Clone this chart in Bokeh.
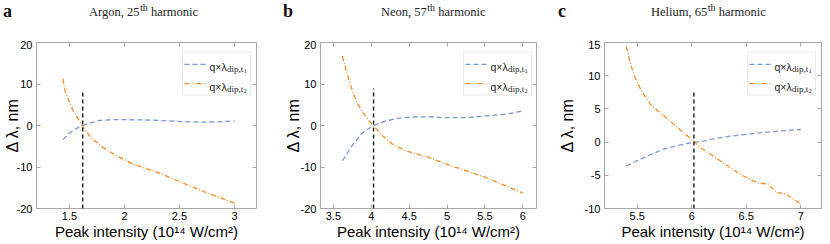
from bokeh.plotting import figure
from bokeh.layouts import row, column
from bokeh.models import Range1d, FixedTicker, LinearAxis, Label, BoxAnnotation, Arrow, Div
from bokeh.embed import file_html
from bokeh.resources import INLINE

# ---------------- data ----------------
panel_letters = ["a", "b", "c"]
title_main = ["Argon, 25", "Neon, 57", "Helium, 65"]
title_sup = "th"
title_rest = "harmonic"
x_label = "Peak intensity (10\u00b9\u2074 W/cm\u00b2)"
y_label = "\u0394 \u03bb, nm"
legend_main = "q\u00d7\u03bb"
legend_sub = "dip,t"
legend_idx = ["1", "2"]

# Argon
ar_x_t1 = [1.44, 1.51, 1.59, 1.68, 1.77, 1.88, 2.00, 2.15, 2.33, 2.51, 2.69, 2.85, 3.00]
ar_y_t1 = [-3.4, -1.6, -0.3, 0.56, 1.2, 1.4, 1.4, 1.36, 1.2, 0.96, 0.8, 0.88, 1.1]
ar_x_t2 = [1.44, 1.46, 1.50, 1.54, 1.59, 1.62, 1.69, 1.80, 1.92, 2.07, 2.19, 2.33, 2.51, 2.69, 2.85, 3.00]
ar_y_t2 = [11.3, 8.2, 5.6, 3.2, 1.2, -0.2, -2.8, -5.2, -7.2, -9.2, -10.3, -11.6, -13.6, -15.6, -17.2, -18.7]
# Neon
ne_x_t1 = [3.62, 3.73, 3.86, 4.02, 4.19, 4.37, 4.59, 4.76, 4.99, 5.25, 5.51, 5.77, 6.00]
ne_y_t1 = [-8.5, -5.3, -2.1, -0.1, 1.1, 1.8, 2.1, 2.1, 1.9, 1.9, 2.3, 2.7, 3.5]
ne_x_t2 = [3.62, 3.67, 3.73, 3.80, 3.89, 3.97, 4.04, 4.15, 4.28, 4.46, 4.63, 4.76, 4.99, 5.25, 5.51, 5.77, 6.00]
ne_y_t2 = [16.7, 13.1, 9.5, 5.9, 3.1, 1.1, -0.3, -2.5, -4.5, -6.1, -7.0, -7.7, -9.3, -10.9, -12.5, -14.5, -16.3]
# Helium
he_x_t1 = [5.40, 5.50, 5.62, 5.74, 5.86, 5.99, 6.11, 6.20, 6.36, 6.54, 6.72, 6.91, 7.00]
he_y_t1 = [-3.6, -2.8, -1.9, -1.1, -0.55, -0.1, 0.15, 0.5, 0.9, 1.25, 1.55, 1.8, 1.9]
he_x_t2 = [5.40, 5.44, 5.48, 5.54, 5.62, 5.71, 5.80, 5.89, 5.99, 6.08, 6.18, 6.33, 6.45, 6.57, 6.62, 6.70, 6.78, 6.86, 7.00]
he_y_t2 = [14.4, 11.7, 9.7, 7.7, 5.7, 4.4, 3.2, 1.9, 0.55, -0.85, -1.9, -3.6, -4.9, -5.9, -6.2, -6.3, -7.6, -7.8, -9.3]

marker_x = [1.62, 4.03, 6.02]
marker_top = [8.6, 8.9, 7.8]

x_ranges = [(1.2, 3.2), (3.33, 6.18), (5.2, 7.19)]
y_ranges = [(-20, 20), (-20, 20), (-10, 15)]
x_ticks = [[1.5, 2, 2.5, 3], [3.5, 4, 4.5, 5, 5.5, 6], [5.5, 6, 6.5, 7]]
x_tick_labels = [["1.5", "2", "2.5", "3"], ["3.5", "4", "4.5", "5", "5.5", "6"], ["5.5", "6", "6.5", "7"]]
y_ticks = [[-20, -10, 0, 10, 20], [-20, -10, 0, 10, 20], [-10, -5, 0, 5, 10, 15]]
y_tick_labels = [["-20", "-10", "0", "10", "20"], ["-20", "-10", "0", "10", "20"], ["-10", "-5", "0", "5", "10", "15"]]

series = [
    (ar_x_t1, ar_y_t1, ar_x_t2, ar_y_t2),
    (ne_x_t1, ne_y_t1, ne_x_t2, ne_y_t2),
    (he_x_t1, he_y_t1, he_x_t2, he_y_t2),
]

# ---------------- style / layout ----------------
SANS = "Liberation Sans"
SERIF = "Liberation Serif"
BLUE = "#7797d8"
ORANGE = "#ff8a22"
FRAME = "#a8a8a8"
LEG_BORDER = "#b8b8b8"
FH = 166
HEADER_H = 40

widths = [281, 273, 276]
borders_l = [36, 38, 50]
borders_r = [25, 18, 9]
ylab_standoff = [-7, -4, 6]
letter_left = [3, 283, 558]
title_left = [89, 381, 651]

ARIAL = {'q': 556, '\u00d7': 584, '\u03bb': 520}
TIMES = {'d': 500, 'i': 278, 'p': 500, ',': 250, 't': 278}


def tw(s, size, table):
    return sum(table.get(c, 500) for c in s) / 1000.0 * size


def lab(p, x, y_off, text, size, font=SANS, color="#222222"):
    p.add_layout(Label(x=x, y=FH - y_off, x_units="screen", y_units="screen", text=text,
                       text_font=font, text_font_size=f"{size}px", text_align="left",
                       text_baseline="alphabetic", text_color=color))


def style_axis(ax, ticks, labels, show):
    ax.ticker = FixedTicker(ticks=ticks)
    ax.major_label_overrides = {t: (l if show else "") for t, l in zip(ticks, labels)}
    ax.major_tick_in = 4
    ax.major_tick_out = 0
    ax.major_tick_line_color = FRAME
    ax.minor_tick_line_color = None
    ax.axis_line_color = None
    ax.major_label_text_font = SANS
    ax.major_label_text_font_size = "11px"
    ax.major_label_text_color = "black"
    ax.major_label_standoff = 3 if show else 0


# header row (panel letters and titles with superscripts)
spans = []
for i in range(3):
    spans.append(
        f'<span style="position:absolute;left:{letter_left[i]}px;top:1.5px;'
        f'font:bold 18px \'{SERIF}\';line-height:18px;color:#111">{panel_letters[i]}</span>')
    spans.append(
        f'<span style="position:absolute;left:{title_left[i]}px;top:6px;white-space:nowrap;'
        f'font:12.5px \'{SERIF}\';line-height:12.5px;color:#222">{title_main[i]}'
        f'<span style="position:relative;top:-5px;font-size:10px;margin-left:0.5px">{title_sup}</span>'
        f' {title_rest}</span>')
header = Div(text=f'<div style="position:relative;width:830px;height:{HEADER_H}px">' + "".join(spans) + '</div>',
             width=830, height=HEADER_H, margin=0)

panels = []
for i in range(3):
    W = widths[i]
    FW = W - borders_l[i] - borders_r[i]
    p = figure(width=W, height=FH + 2 + 36, x_range=Range1d(*x_ranges[i]), y_range=Range1d(*y_ranges[i]),
               output_backend="svg", toolbar_location=None,
               min_border_left=borders_l[i], min_border_right=borders_r[i],
               min_border_top=2, min_border_bottom=36, margin=0)
    p.grid.visible = False
    p.outline_line_color = FRAME
    p.outline_line_width = 1
    p.background_fill_color = "white"
    p.border_fill_color = "white"

    style_axis(p.xaxis[0], x_ticks[i], x_tick_labels[i], True)
    style_axis(p.yaxis[0], y_ticks[i], y_tick_labels[i], True)
    p.yaxis[0].major_label_standoff = 4
    p.xaxis[0].axis_label = x_label
    p.xaxis[0].axis_label_text_font = SANS
    p.xaxis[0].axis_label_text_font_size = "15px"
    p.xaxis[0].axis_label_text_font_style = "normal"
    p.xaxis[0].axis_label_text_color = "black"
    p.xaxis[0].axis_label_standoff = 0
    p.yaxis[0].axis_label = y_label
    p.yaxis[0].axis_label_text_font = SANS
    p.yaxis[0].axis_label_text_font_size = "16px"
    p.yaxis[0].axis_label_text_font_style = "normal"
    p.yaxis[0].axis_label_text_color = "black"
    p.yaxis[0].axis_label_standoff = ylab_standoff[i]

    top_ax = LinearAxis()
    style_axis(top_ax, x_ticks[i], x_tick_labels[i], False)
    p.add_layout(top_ax, "above")
    right_ax = LinearAxis()
    style_axis(right_ax, y_ticks[i], y_tick_labels[i], False)
    p.add_layout(right_ax, "right")

    x1, y1, x2, y2 = series[i]
    p.line(x1, y1, line_color=BLUE, line_width=1.3, line_dash="5 3")
    p.line(x2, y2, line_color=ORANGE, line_width=1.3, line_dash="5 2 1 2")
    p.segment(x0=[marker_x[i]], y0=[y_ranges[i][0]], x1=[marker_x[i]], y1=[marker_top[i]],
              line_color="#1a1a1a", line_width=1.4, line_dash="4 3")

    # legend (drawn by hand for the subscripts)
    bl = FW - 74
    bt = 9.5
    p.add_layout(BoxAnnotation(left=bl, right=FW - 6, top=FH - bt, bottom=FH - (bt + 43),
                               left_units="screen", right_units="screen",
                               top_units="screen", bottom_units="screen",
                               fill_color="white", fill_alpha=1.0,
                               line_color=LEG_BORDER, line_width=1))
    for k, (col, dash) in enumerate([(BLUE, "5 3"), (ORANGE, "5 3 1 3")]):
        ly = bt + 12.3 + 19.4 * k
        p.add_layout(Arrow(x_start=bl + 2, x_end=bl + 25, y_start=FH - ly, y_end=FH - ly,
                           start_units="screen", end_units="screen", end=None,
                           line_color=col, line_width=1.3, line_dash=dash))
        base = bt + 15.2 + 19.4 * k
        tx = bl + 27
        lab(p, tx, base, legend_main, 10.5, SANS)
        wm = tw(legend_main, 10.5, ARIAL)
        lab(p, tx + wm, base + 2, legend_sub, 9, SERIF)
        wsub = tw(legend_sub, 9, TIMES)
        lab(p, tx + wm + wsub + 0.3, base + 4, legend_idx[k], 6.5, SERIF)

    panels.append(p)

layout = column(header, row(*panels, spacing=0), spacing=0)
open("out.html", "w").write(file_html(layout, INLINE))
